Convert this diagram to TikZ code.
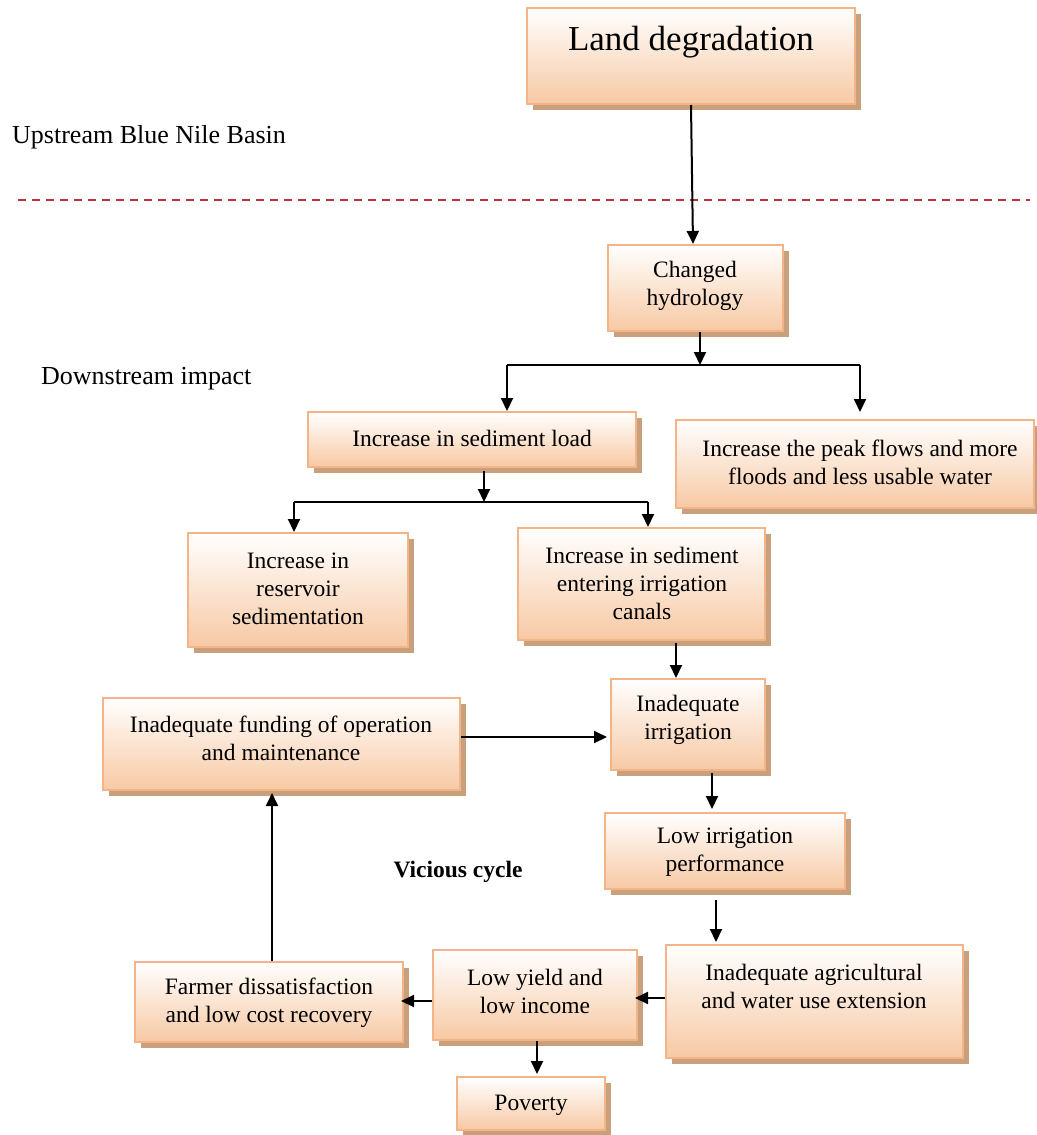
\documentclass[tikz,border=0pt]{standalone}
\usepackage{fontspec}
\setmainfont{Liberation Serif}
\usetikzlibrary{arrows.meta,shadows}
\definecolor{peach}{HTML}{F7C9A4}
\definecolor{edgec}{HTML}{F4B487}
\definecolor{shadowc}{HTML}{C9A07C}
\definecolor{dashred}{HTML}{C0303A}
\tikzset{
  box/.style={draw=edgec, line width=2pt, top color=white, bottom color=peach, inner sep=0pt,
    drop shadow={shadow xshift=6pt, shadow yshift=-6pt, fill=shadowc, opacity=1}},
  txt/.style={align=center, font=\fontsize{23.5}{28}\selectfont, inner sep=0pt},
  lbl/.style={anchor=west, font=\fontsize{26}{30}\selectfont, inner sep=0pt},
  arr/.style={line width=2pt, -{Triangle[length=13pt,width=12pt]}},
  ln/.style={line width=2pt}
}
\newcommand{\mkbox}[6]{% name, x1, y1, x2, y2
  \node[box, minimum width=#4pt-#2pt, minimum height=#5pt-#3pt] (#1) at ({(#2+#4)/2},{(#3+#5)/2}) {};}
\begin{document}
\begin{tikzpicture}[x=1pt,y=-1pt]
\useasboundingbox (0,0) rectangle (1036,1135);
\fill[white] (0,0) rectangle (1036,1135);

% boxes
\mkbox{land}{527}{8}{855}{104}{}
\mkbox{hyd}{608}{245}{783}{331}{}
\mkbox{sed}{308}{412}{636}{467}{}
\mkbox{peak}{676}{420}{1034}{508}{}
\mkbox{res}{188}{533}{408}{647}{}
\mkbox{canal}{518}{528}{765}{640}{}
\mkbox{irr}{611}{679}{765}{770}{}
\mkbox{fund}{103}{698}{460}{790}{}
\mkbox{perf}{605}{813}{845}{889}{}
\mkbox{ext}{666}{945}{963}{1058}{}
\mkbox{yield}{433}{950}{637}{1040}{}
\mkbox{farm}{135}{962}{403}{1042}{}
\mkbox{pov}{457}{1077}{605}{1130}{}

% texts
\node[txt, font=\fontsize{35}{40}\selectfont] (landt) at (691,42) {Land degradation};
\node[txt] (hydt) at (695,286) {Changed\\hydrology};
\node[txt] (sedt) at (472,438) {Increase in sediment load};
\node[txt] (peakt) at (860,462) {Increase the peak flows and more\\floods and less usable water};
\node[txt] (rest) at (298,589) {Increase in\\reservoir\\sedimentation};
\node[txt] (canalt) at (642,583) {Increase in sediment\\entering irrigation\\canals};
\node[txt] (irrt) at (688,720) {Inadequate\\irrigation};
\node[txt] (fundt) at (281,738) {Inadequate funding of operation\\and maintenance};
\node[txt] (perft) at (725,852) {Low irrigation\\performance};
\node[txt] (extt) at (814,986) {Inadequate agricultural\\and water use extension};
\node[txt] (yieldt) at (535,991) {Low yield and\\low income};
\node[txt] (farmt) at (269,1003) {Farmer dissatisfaction\\and low cost recovery};
\node[txt] (povt) at (531,1105) {Poverty};

\node[lbl] (up) at (12,137) {Upstream Blue Nile Basin};
\node[lbl] (down) at (41,379) {Downstream impact};
\node[txt, font=\bfseries\fontsize{23.5}{28}\selectfont] (vic) at (458,872) {Vicious cycle};

% dashed line
\coordinate (dl) at (18,200);
\coordinate (dr) at (1030,200);
\draw[dashred, line width=1.5pt, dash pattern=on 8pt off 6pt] (dl) -- (dr);

% connectors
\draw[arr] (land.south -| 691,0) -- (hyd.north -| 693,0);

\coordinate (j1) at (700,365);
\coordinate (j1l) at (507,365);
\coordinate (j1r) at (860,365);
\draw[arr] (hyd.south -| j1) -- (j1);
\draw[ln] (j1l) -- (j1r);
\draw[arr] (j1l) -- (sed.north -| j1l);
\draw[arr] (j1r) -- ([yshift=7pt]peak.north -| j1r);

\coordinate (j2) at (484,502);
\coordinate (j2l) at (294,502);
\coordinate (j2r) at (648,502);
\draw[arr] ([yshift=-3pt]sed.south -| j2) -- (j2);
\draw[ln] (j2l) -- (j2r);
\draw[arr] (j2l) -- (res.north -| j2l);
\draw[arr] (j2r) -- (canal.north -| j2r);

\draw[arr] ([yshift=-2pt]canal.south -| 676,0) -- (irr.north -| 676,0);
\draw[arr] (fund.east |- 0,737) -- ([xshift=-3pt]irr.west |- 0,737);
\draw[arr] ([yshift=-2pt]irr.south -| 712,0) -- ([yshift=3pt]perf.north -| 712,0);
\draw[arr] ([yshift=-10pt]perf.south -| 716,0) -- ([yshift=2pt]ext.north -| 716,0);
\draw[arr] (ext.west |- 0,998) -- ([xshift=-3pt]yield.east |- 0,998);
\draw[arr] (yield.west |- 0,1001) -- ([xshift=-3pt]farm.east |- 0,1001);
\draw[arr] (yield.south -| 537,0) -- ([yshift=2pt]pov.north -| 537,0);
\draw[arr] (farm.north -| 272,0) -- ([yshift=-2pt]fund.south -| 272,0);
\end{tikzpicture}
\end{document}
